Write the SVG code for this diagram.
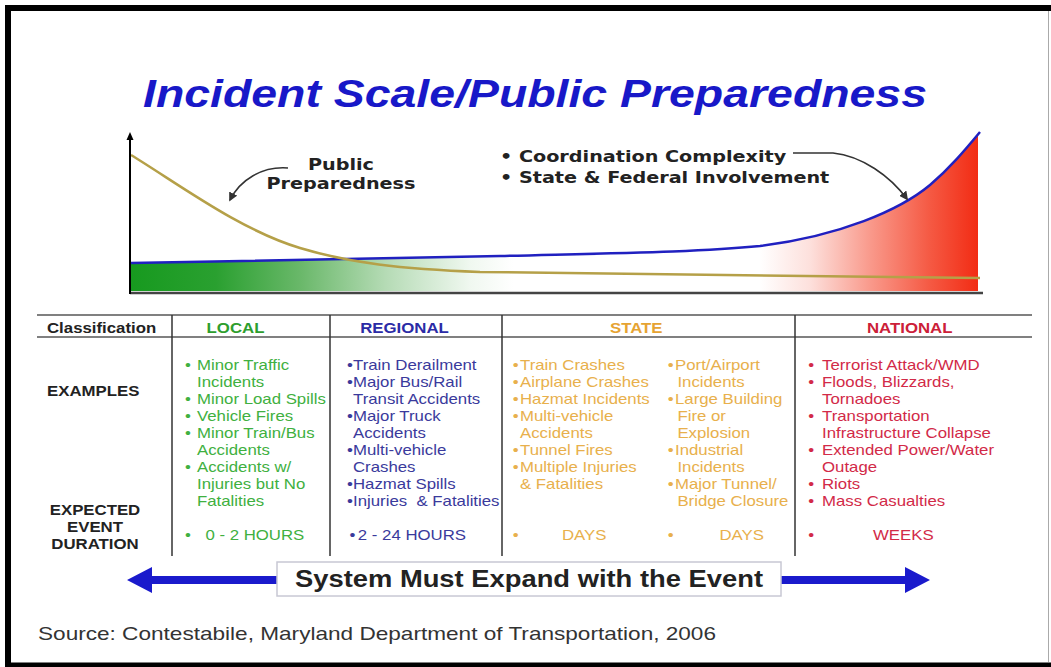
<svg xmlns="http://www.w3.org/2000/svg" width="1051" height="667" viewBox="0 0 1051 667">
<defs>
<style>
.a{font-family:"Liberation Sans",Arial,sans-serif}
.v{font-family:"DejaVu Sans",Verdana,sans-serif;font-weight:bold;font-size:16px;fill:#222}
.bd{font-weight:bold}
.it{font-size:14px}
.hd{font-size:14px;font-weight:bold}
.lab{fill:#222}
.loc-h{fill:#2e9e2e}.loc{fill:#40b040}
.reg-h{fill:#2b2ba6}.reg{fill:#3a3a9c}
.sta-h{fill:#e6a332}.sta{fill:#e8b04c}
.nat-h{fill:#cc2038}.nat{fill:#d22a48}
.pre{white-space:pre}
.tline{stroke:#808080;stroke-width:2}
.vline{stroke:#333;stroke-width:1.5}
.ann{fill:none;stroke:#333;stroke-width:1.5}
</style>
<linearGradient id="fillGrad" gradientUnits="userSpaceOnUse" x1="131" y1="0" x2="980" y2="0">
<stop offset="0" stop-color="#179a1f"/>
<stop offset="0.1" stop-color="#2aa030"/>
<stop offset="0.2" stop-color="#6ab86a"/>
<stop offset="0.3" stop-color="#b5dbb5"/>
<stop offset="0.4" stop-color="#f0f8f0"/>
<stop offset="0.45" stop-color="#ffffff"/>
<stop offset="0.74" stop-color="#ffffff"/>
<stop offset="0.8" stop-color="#fde0dc"/>
<stop offset="0.87" stop-color="#f99a8c"/>
<stop offset="0.94" stop-color="#f55a44"/>
<stop offset="1" stop-color="#f22a12"/>
</linearGradient>
<marker id="ah" viewBox="0 0 10 10" refX="8" refY="5" markerWidth="6" markerHeight="6" orient="auto">
<path d="M0,0 L10,5 L0,10 Z" fill="#333"/>
</marker>
</defs>

<rect x="0" y="0" width="1051" height="667" fill="#fff"/>

<g id="frame">
<path d="M8,667 V8 H1051" fill="none" stroke="#000" stroke-width="6"/>
<line x1="5" y1="665" x2="1051" y2="665" stroke="#000" stroke-width="5"/>
<line x1="1048.5" y1="11" x2="1048.5" y2="662" stroke="#aaa" stroke-width="1"/>
</g>

<g id="title">
<text class="a" x="143" y="107" font-size="39" font-weight="bold" font-style="italic" fill="#1818c8" textLength="784" lengthAdjust="spacingAndGlyphs">Incident Scale/Public Preparedness</text>
</g>

<g id="chart">
<path d="M131,263 L500,256 C620,253 700,252 760,246 C840,236 900,210 930,185 C950,168 965,150 978,135 L978,291 L131,291 Z" fill="url(#fillGrad)"/>
<path d="M131,263 L500,256 C620,253 700,252 760,246 C840,236 900,210 930,185 C950,168 965,150 980,132" fill="none" stroke="#2020c0" stroke-width="2.5"/>
<path d="M131,155 C180,185 240,230 300,248 C350,263 400,269 480,272 L980,278" fill="none" stroke="#b5a048" stroke-width="2.5"/>
<line x1="130" y1="293" x2="983" y2="293" stroke="#444" stroke-width="2.5"/>
<line x1="130" y1="294" x2="130" y2="138" stroke="#000" stroke-width="2"/>
<polygon points="130,132 126.5,140 133.5,140" fill="#000"/>
</g>

<g id="label-public">
<g transform="translate(341,0) scale(1.2,1)">
<text class="v" x="0" y="170" text-anchor="middle">Public</text>
<text class="v" x="0" y="189" text-anchor="middle">Preparedness</text>
</g>
</g>

<g id="label-coordination">
<g transform="translate(500,0) scale(1.2,1)">
<text class="v" x="0" y="162">• Coordination Complexity</text>
<text class="v" x="0" y="183">• State &amp; Federal Involvement</text>
</g>
</g>

<g id="table-lines">
<line class="tline" x1="37" y1="315" x2="1032" y2="315"/>
<line class="tline" x1="37" y1="337" x2="1032" y2="337"/>
<line class="vline" x1="172" y1="315" x2="172" y2="556"/>
<line class="vline" x1="330" y1="315" x2="330" y2="556"/>
<line class="vline" x1="502" y1="315" x2="502" y2="556"/>
<line class="vline" x1="795" y1="315" x2="795" y2="556"/>
</g>

<g id="row-labels" class="a lab hd" transform="translate(47,0) scale(1.2,1)">
<text x="0" y="333">Classification</text>
<text x="0" y="396">EXAMPLES</text>
<text x="40" y="515" text-anchor="middle">EXPECTED</text>
<text x="40" y="532" text-anchor="middle">EVENT</text>
<text x="40" y="549" text-anchor="middle">DURATION</text>
</g>

<g id="col-local" class="a it" transform="translate(197,0) scale(1.2,1)">
<text class="hd loc-h" x="8" y="333">LOCAL</text>
<g class="loc">
<text x="-10" y="370">•</text><text x="0" y="370">Minor Traffic</text>
<text x="0" y="387">Incidents</text>
<text x="-10" y="404">•</text><text x="0" y="404">Minor Load Spills</text>
<text x="-10" y="421">•</text><text x="0" y="421">Vehicle Fires</text>
<text x="-10" y="438">•</text><text x="0" y="438">Minor Train/Bus</text>
<text x="0" y="455">Accidents</text>
<text x="-10" y="472">•</text><text x="0" y="472">Accidents w/</text>
<text x="0" y="489">Injuries but No</text>
<text x="0" y="506">Fatalities</text>
<text x="-10" y="540">•</text><text x="7" y="540">0 - 2 HOURS</text>
</g>
</g>

<g id="col-regional" class="a it" transform="translate(353,0) scale(1.2,1)">
<text class="hd reg-h" x="6" y="333">REGIONAL</text>
<g class="reg">
<text x="-5" y="370">•</text><text x="0" y="370">Train Derailment</text>
<text x="-5" y="387">•</text><text x="0" y="387">Major Bus/Rail</text>
<text x="0" y="404">Transit Accidents</text>
<text x="-5" y="421">•</text><text x="0" y="421">Major Truck</text>
<text x="0" y="438">Accidents</text>
<text x="-5" y="455">•</text><text x="0" y="455">Multi-vehicle</text>
<text x="0" y="472">Crashes</text>
<text x="-5" y="489">•</text><text x="0" y="489">Hazmat Spills</text>
<text x="-5" y="506">•</text><text class="pre" x="0" y="506">Injuries  &amp; Fatalities</text>
<text x="-3" y="540">•</text><text x="4" y="540">2 - 24 HOURS</text>
</g>
</g>

<g id="col-state" class="a it">
<g transform="translate(520,0) scale(1.2,1)">
<text class="hd sta-h" x="75" y="333">STATE</text>
<g class="sta">
<text x="-6" y="370">•</text><text x="0" y="370">Train Crashes</text>
<text x="-6" y="387">•</text><text x="0" y="387">Airplane Crashes</text>
<text x="-6" y="404">•</text><text x="0" y="404">Hazmat Incidents</text>
<text x="-6" y="421">•</text><text x="0" y="421">Multi-vehicle</text>
<text x="0" y="438">Accidents</text>
<text x="-6" y="455">•</text><text x="0" y="455">Tunnel Fires</text>
<text x="-6" y="472">•</text><text x="0" y="472">Multiple Injuries</text>
<text x="0" y="489">&amp; Fatalities</text>
<text x="-6" y="540">•</text><text x="35" y="540">DAYS</text>
</g>
</g>
<g class="sta" transform="translate(675,0) scale(1.2,1)">
<text x="-6" y="370">•</text><text x="0" y="370">Port/Airport</text>
<text x="2" y="387">Incidents</text>
<text x="-6" y="404">•</text><text x="0" y="404">Large Building</text>
<text x="2" y="421">Fire or</text>
<text x="2" y="438">Explosion</text>
<text x="-6" y="455">•</text><text x="0" y="455">Industrial</text>
<text x="2" y="472">Incidents</text>
<text x="-6" y="489">•</text><text x="0" y="489">Major Tunnel/</text>
<text x="2" y="506">Bridge Closure</text>
<text x="-6" y="540">•</text><text x="37" y="540">DAYS</text>
</g>
</g>

<g id="col-national" class="a it" transform="translate(822,0) scale(1.2,1)">
<text class="hd nat-h" x="37.5" y="333">NATIONAL</text>
<g class="nat">
<text x="-11.5" y="370">•</text><text x="0" y="370">Terrorist Attack/WMD</text>
<text x="-11.5" y="387">•</text><text x="0" y="387">Floods, Blizzards,</text>
<text x="0" y="404">Tornadoes</text>
<text x="-11.5" y="421">•</text><text x="0" y="421">Transportation</text>
<text x="0" y="438">Infrastructure Collapse</text>
<text x="-11.5" y="455">•</text><text x="0" y="455">Extended Power/Water</text>
<text x="0" y="472">Outage</text>
<text x="-11.5" y="489">•</text><text x="0" y="489">Riots</text>
<text x="-11.5" y="506">•</text><text x="0" y="506">Mass Casualties</text>
<text x="-11.5" y="540">•</text><text x="42.5" y="540">WEEKS</text>
</g>
</g>

<g id="connectors">
<path class="ann" d="M288,168 C262,166 240,180 230,200" marker-end="url(#ah)"/>
<path class="ann" d="M793,153 L833,153 C862,156 890,176 907,199" marker-end="url(#ah)"/>
<polygon points="127,580 152,567 152,576 277,576 277,584 152,584 152,593" fill="#1a1acc"/>
<polygon points="930,580 905,567 905,576 781,576 781,584 905,584 905,593" fill="#1a1acc"/>
</g>

<g id="banner">
<rect x="277" y="562" width="504" height="34" fill="#fff" stroke="#c8c8d4" stroke-width="1.5"/>
<text class="a" x="529" y="587" font-size="23" font-weight="bold" fill="#222" text-anchor="middle" textLength="468" lengthAdjust="spacingAndGlyphs">System Must Expand with the Event</text>
</g>

<g id="source">
<text class="a" x="38" y="640" font-size="18.5" fill="#333" textLength="678" lengthAdjust="spacingAndGlyphs">Source: Contestabile, Maryland Department of Transportation, 2006</text>
</g>
</svg>
